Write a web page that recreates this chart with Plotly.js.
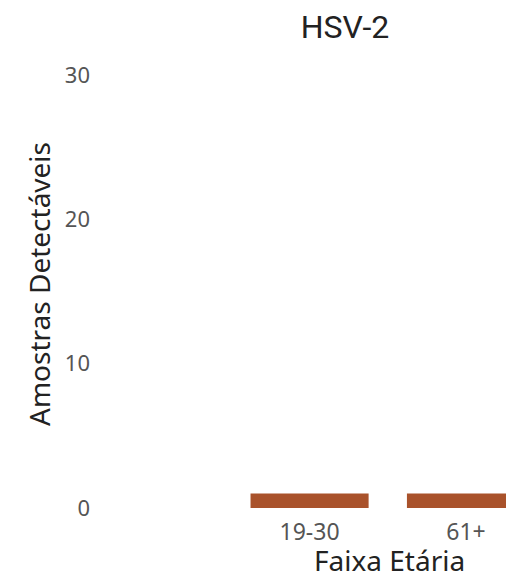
<!DOCTYPE html>
<html>
<head>
<meta charset="utf-8">
<script src="https://cdn.plot.ly/plotly-3.0.1.min.js"></script>
<style>html,body{margin:0;padding:0;overflow:hidden;background:#fff;}#chart{width:506px;height:578px;}</style>
</head>
<body>
<div id="chart"></div>
<script>
const categories = ["19-30", "61+"];
const values = [1, 1];
const yTicks = [0, 10, 20, 30];
const chartTitle = "HSV-2";
const xTitle = "Faixa Etária";
const yTitle = "Amostras Detectáveis";

const trace = {
  type: "bar",
  x: categories,
  y: values,
  marker: {color: "#A9522B"},
  width: 0.755,
  hoverinfo: "none"
};

const layout = {
  width: 506,
  height: 578,
  margin: {l: 95, r: 0, t: 60, b: 70},
  paper_bgcolor: "#fff",
  plot_bgcolor: "#fff",
  showlegend: false,
  title: {
    text: chartTitle,
    font: {family: "Roboto, 'Noto Sans', sans-serif", size: 32, color: "#222"},
    x: 345/506, xref: "container", xanchor: "center",
    y: 1 - 27/578, yref: "container", yanchor: "middle"
  },
  xaxis: {
    type: "category",
    range: [-1.372, 1.256],
    showgrid: false, zeroline: false, showline: false, ticks: "",
    ticklabelstandoff: 8,
    tickfont: {family: "'Noto Sans', 'Open Sans', sans-serif", size: 23, color: "#555"}
  },
  yaxis: {
    range: [0, 31.05],
    tickvals: yTicks,
    showgrid: false, zeroline: false, showline: false, ticks: "",
    ticklabelstandoff: 4,
    tickfont: {family: "'Noto Sans', 'Open Sans', sans-serif", size: 22, color: "#555"},
    title: {
      text: yTitle,
      font: {family: "'Noto Sans', 'Open Sans', sans-serif", size: 28, color: "#222"},
      standoff: 6
    }
  },
  annotations: [{
    text: xTitle,
    xref: "paper", yref: "paper",
    x: (389 - 95) / 411, y: 0,
    yshift: -31,
    xanchor: "center", yanchor: "top",
    showarrow: false,
    font: {family: "'Noto Sans', 'Open Sans', sans-serif", size: 28, color: "#222"}
  }]
};

Plotly.newPlot("chart", [trace], layout, {displayModeBar: false, staticPlot: true});
</script>
</body>
</html>
